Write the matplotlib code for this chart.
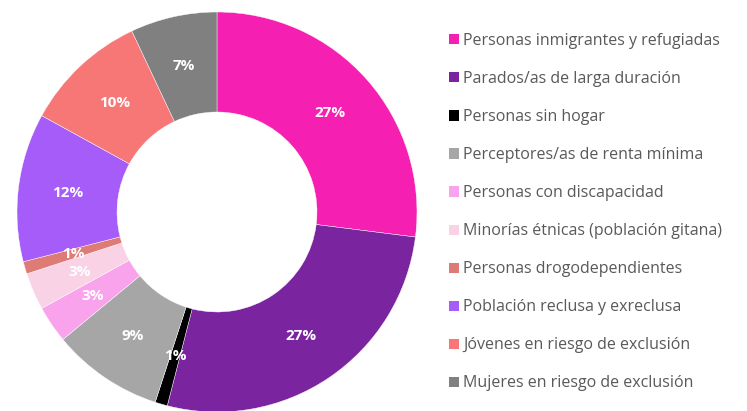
import matplotlib
matplotlib.use('Agg')
import matplotlib.pyplot as plt
from matplotlib.patches import Patch

categories = [
    'Personas inmigrantes y refugiadas',
    'Parados/as de larga duración',
    'Personas sin hogar',
    'Perceptores/as de renta mínima',
    'Personas con discapacidad',
    'Minorías étnicas (población gitana)',
    'Personas drogodependientes',
    'Población reclusa y exreclusa',
    'Jóvenes en riesgo de exclusión',
    'Mujeres en riesgo de exclusión',
]
values = [27, 27, 1, 9, 3, 3, 1, 12, 10, 7]
colors = ['#F520B2', '#7B24A0', '#000000', '#A6A6A6', '#F9A3EC',
          '#F9D2E6', '#DE7B76', '#A65CF9', '#F77676', '#808080']

fig = plt.figure(figsize=(7.47, 4.11), dpi=100)
ax = fig.add_axes([17 / 747, -1 / 411, 400 / 747, 400 / 411])

wedges, texts, autotexts = ax.pie(
    values, colors=colors, startangle=90, counterclock=False,
    autopct=lambda p: f'{p:.0f}%', pctdistance=0.75,
    wedgeprops=dict(width=0.5, edgecolor='white', linewidth=0.3),
    textprops=dict(color='white', fontsize=11, fontweight='bold', family='Open Sans'),
)
ax.set_xlim(-1, 1)
ax.set_ylim(-1, 1)
ax.set_aspect('equal')

handles = [Patch(facecolor=c, edgecolor='none') for c in colors]
leg = fig.legend(handles, categories, loc='upper left', bbox_to_anchor=(449 / 747, 1 - 33 / 411),
                 frameon=False, handlelength=0.6, handleheight=0.6, handletextpad=0.3,
                 labelspacing=1.38, borderaxespad=0, borderpad=0,
                 prop=dict(family='Open Sans', size=11.5))
for t in leg.get_texts():
    t.set_color('#595959')

fig.savefig('out.png', dpi=100)
